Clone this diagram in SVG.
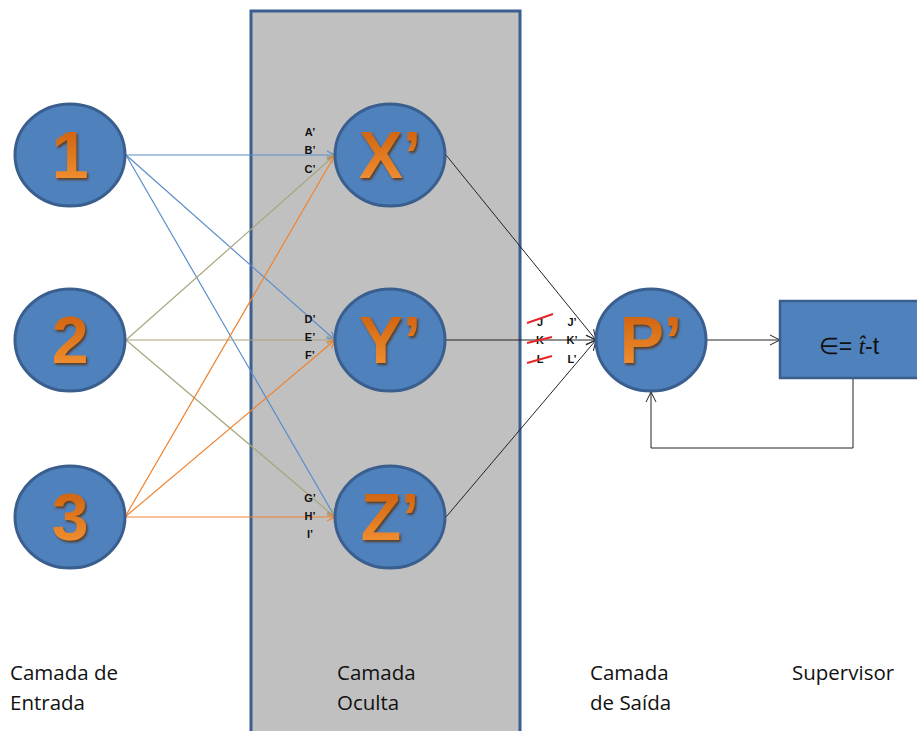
<svg xmlns="http://www.w3.org/2000/svg" width="917" height="731" viewBox="0 0 917 731">
<defs>
<style>
.node{fill:#4F81BD;stroke:#3A5F8F;stroke-width:3}
.big{font-family:"Liberation Sans",Arial,sans-serif;font-weight:bold;font-size:66px;fill:url(#og);text-anchor:middle;filter:url(#sh)}
.w{font-family:"Liberation Sans",Arial,sans-serif;font-weight:bold;font-size:11px;fill:#111;text-anchor:middle}
.lab{font-family:"Open Sans","Liberation Sans",sans-serif;font-size:20.5px;fill:#111}
.bl{stroke:#5B8DCB;stroke-width:1.2;fill:none}
.ol{stroke:#A8A47E;stroke-width:1.2;fill:none}
.or{stroke:#F0822E;stroke-width:1.2;fill:none}
.k{stroke:#222;stroke-width:1;fill:none}
.red{stroke:#E8262A;stroke-width:2}
</style>
<linearGradient id="og" x1="0" y1="0" x2="0" y2="1">
<stop offset="0" stop-color="#C85A08"/>
<stop offset="1" stop-color="#F89838"/>
</linearGradient>
<filter id="sh" x="-20%" y="-20%" width="140%" height="140%">
<feDropShadow dx="1.5" dy="2" stdDeviation="0.8" flood-color="#5a2a00" flood-opacity="0.8"/>
</filter>
<marker id="ab" markerWidth="10" markerHeight="10" refX="9" refY="5" orient="auto" markerUnits="userSpaceOnUse"><path d="M1,1 L9,5 L1,9" fill="none" stroke="#5B8DCB" stroke-width="1.2"/></marker>
<marker id="ao" markerWidth="10" markerHeight="10" refX="9" refY="5" orient="auto" markerUnits="userSpaceOnUse"><path d="M1,1 L9,5 L1,9" fill="none" stroke="#A8A47E" stroke-width="1.2"/></marker>
<marker id="ar" markerWidth="10" markerHeight="10" refX="9" refY="5" orient="auto" markerUnits="userSpaceOnUse"><path d="M1,1 L9,5 L1,9" fill="none" stroke="#F0822E" stroke-width="1.2"/></marker>
<marker id="ak" markerWidth="12" markerHeight="12" refX="11" refY="6" orient="auto" markerUnits="userSpaceOnUse"><path d="M1,1 L11,6 L1,11" fill="none" stroke="#222" stroke-width="1"/></marker>
</defs>
<rect width="917" height="731" fill="#FFFFFF"/>
<rect id="hidden-layer" x="251" y="11" width="269" height="730" fill="#C0C0C0" stroke="#3A5F8F" stroke-width="3"/>

<g id="connectors">
<line class="bl" x1="126" y1="155" x2="335" y2="155" marker-end="url(#ab)"/>
<line class="bl" x1="126" y1="155" x2="335" y2="340" marker-end="url(#ab)"/>
<line class="bl" x1="126" y1="155" x2="335" y2="517" marker-end="url(#ab)"/>
<line class="ol" x1="126" y1="340" x2="335" y2="155" marker-end="url(#ao)"/>
<line class="ol" x1="126" y1="340" x2="335" y2="340" marker-end="url(#ao)"/>
<line class="ol" x1="126" y1="340" x2="335" y2="517" marker-end="url(#ao)"/>
<line class="or" x1="125" y1="517" x2="335" y2="155" marker-end="url(#ar)"/>
<line class="or" x1="125" y1="517" x2="335" y2="340" marker-end="url(#ar)"/>
<line class="or" x1="125" y1="517" x2="335" y2="517" marker-end="url(#ar)"/>
<line class="k" x1="446" y1="155" x2="596" y2="340" marker-end="url(#ak)"/>
<line class="k" x1="446" y1="340" x2="596" y2="340" marker-end="url(#ak)"/>
<line class="k" x1="446" y1="517" x2="596" y2="340" marker-end="url(#ak)"/>
<line class="k" x1="707" y1="340" x2="780" y2="340" marker-end="url(#ak)"/>
<polyline class="k" points="853,378 853,448 651,448 651,392" marker-end="url(#ak)"/>
</g>

<g id="node-1"><ellipse class="node" cx="70" cy="155" rx="55" ry="51"/><text class="big" x="70" y="178">1</text></g>
<g id="node-2"><ellipse class="node" cx="70" cy="340" rx="55" ry="51"/><text class="big" x="70" y="363">2</text></g>
<g id="node-3"><ellipse class="node" cx="70" cy="517" rx="55" ry="51"/><text class="big" x="70" y="540">3</text></g>
<g id="node-x"><ellipse class="node" cx="390" cy="155" rx="55" ry="51"/><text class="big" x="390" y="178">X’</text></g>
<g id="node-y"><ellipse class="node" cx="390" cy="340" rx="55" ry="51"/><text class="big" x="390" y="363">Y’</text></g>
<g id="node-z"><ellipse class="node" cx="390" cy="517" rx="55" ry="51"/><text class="big" x="390" y="540">Z’</text></g>
<g id="node-p"><ellipse class="node" cx="651" cy="340" rx="55" ry="51"/><text class="big" x="651" y="363">P’</text></g>
<g id="supervisor-box"><rect x="780" y="301" width="140" height="77" fill="#4F81BD" stroke="#3A5F8F" stroke-width="2.5"/>
<text x="849" y="354" text-anchor="middle" font-family="'Liberation Sans',Arial,sans-serif" font-size="23" fill="#111">∈= <tspan font-family="'Liberation Serif',serif" font-style="italic">t̂</tspan>-t</text></g>

<g id="weight-labels">
<text class="w" x="310" y="136">A’</text>
<text class="w" x="310" y="154">B’</text>
<text class="w" x="310" y="173">C’</text>
<text class="w" x="310" y="323">D’</text>
<text class="w" x="310" y="341">E’</text>
<text class="w" x="310" y="359">F’</text>
<text class="w" x="310" y="502">G’</text>
<text class="w" x="310" y="520">H’</text>
<text class="w" x="310" y="538">I’</text>
<text class="w" x="540" y="326">J</text>
<text class="w" x="540" y="344">K</text>
<text class="w" x="540" y="363">L</text>
<text class="w" x="572" y="326">J’</text>
<text class="w" x="572" y="344">K’</text>
<text class="w" x="572" y="363">L’</text>
<line class="red" x1="527" y1="323" x2="553" y2="314"/>
<line class="red" x1="527" y1="343" x2="552" y2="337"/>
<line class="red" x1="527" y1="363" x2="552" y2="356"/>
</g>

<g id="layer-labels">
<text class="lab" x="10" y="680">Camada de</text>
<text class="lab" x="10" y="710">Entrada</text>
<text class="lab" x="337" y="680">Camada</text>
<text class="lab" x="337" y="710">Oculta</text>
<text class="lab" x="590" y="680">Camada</text>
<text class="lab" x="590" y="710">de Saída</text>
<text class="lab" x="792" y="680">Supervisor</text>
</g>
</svg>
